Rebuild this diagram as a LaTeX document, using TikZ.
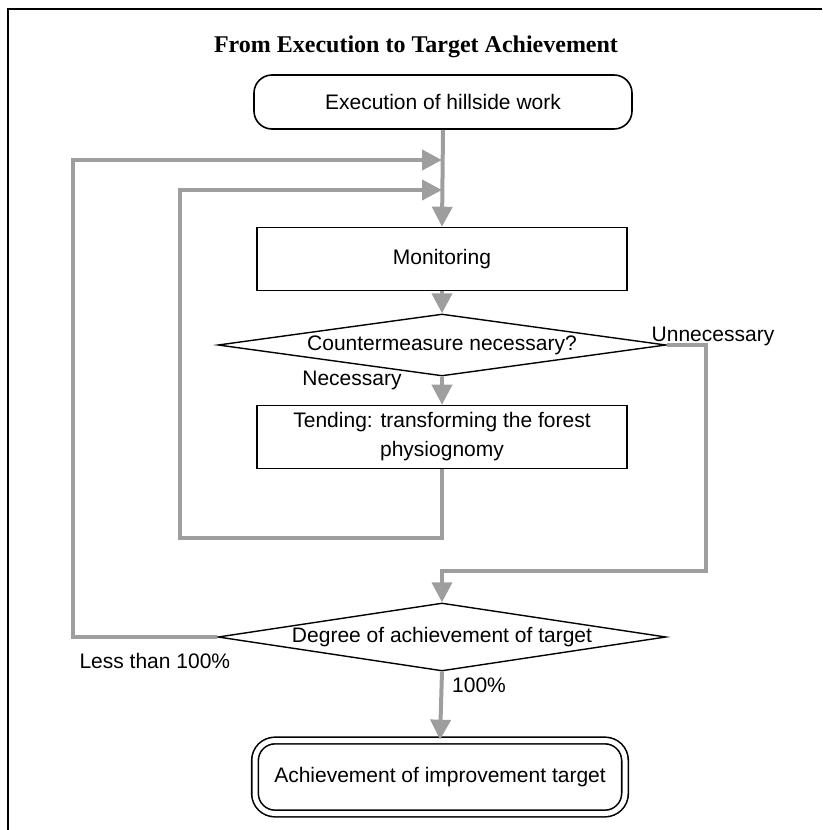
\documentclass[tikz,border=0pt]{standalone}
\usepackage{fontspec}
\setmainfont{Liberation Sans}
\newfontfamily\titlefont{Liberation Serif}
\usetikzlibrary{arrows.meta,shapes.geometric,positioning}

\begin{document}
\begin{tikzpicture}[x=1pt,y=-1pt,
        flow/.style={-{Triangle[width=20pt,length=20pt]},line width=4pt,draw=black!38},
        txt/.style={font=\fontsize{21}{29}\selectfont},
        box/.style={txt,rectangle,draw=black,line width=1.6pt,minimum width=370pt,minimum height=63pt,align=center,inner sep=2pt},
        rbox/.style={box,rounded corners=18pt},
        decision/.style={txt,diamond,draw=black,line width=1.4pt,aspect=7,minimum width=448pt,minimum height=62pt,inner sep=0pt}]
        \useasboundingbox (0,0) rectangle (822,830);
        % frame (only top and left edges are shown)
        \draw[line width=2pt] (8,830) -- (8,9) -- (822,9);
        \node[font=\titlefont\bfseries\fontsize{24}{28}\selectfont] (title) at (416,47) {From Execution to Target Achievement};
        \node[rbox,minimum width=378pt,minimum height=54pt] (start) at (443,102) {Execution of hillside work};
        \node[box]      (mon)  at (442,259) {Monitoring};
        \node[decision] (dc)   at (442,345) {Countermeasure necessary?};
        \node[box]      (tend) at (442,437) {Tending: transforming the forest\\physiognomy};
        \node[decision,aspect=6.6,minimum height=68pt] (dg) at (442,637) {Degree of achievement of target};
        \node[txt,rectangle,draw=black,line width=1.6pt,double,double distance=5pt,rounded corners=20pt,
              minimum width=370pt,minimum height=73pt] (goal) at (440,777) {Achievement of improvement target};
        % labels
        \node[txt] (unn)  at (713,336) {Unnecessary};
        \node[txt] (nec)  at (352,380) {Necessary};
        \node[txt] (full) at (479,685) {100\%};
        \node[txt,anchor=west] (less) at (76,661) {Less than 100\%};
        % bends
        \coordinate (inA)   at (442,160);
        \coordinate (inB)   at (442,190);
        \coordinate (outer) at (73,160);
        \coordinate (inner) at (180,538);
        \coordinate (skip)  at (706,571);
        \path
          (start.south) edge[flow] (mon.north)
          (mon.south)   edge[flow] (dc.north)
          (dc.south)    edge[flow] (tend.north)
          (dg.south)    edge[flow] (goal.north)
          ;
        \draw[flow] (dg.west) -| (outer) -- (inA);
        \draw[flow] (tend.south) |- (inner) |- (inB);
        \draw[flow] (dc.east) -| (skip) -| (dg.north);
      \end{tikzpicture}
\end{document}
